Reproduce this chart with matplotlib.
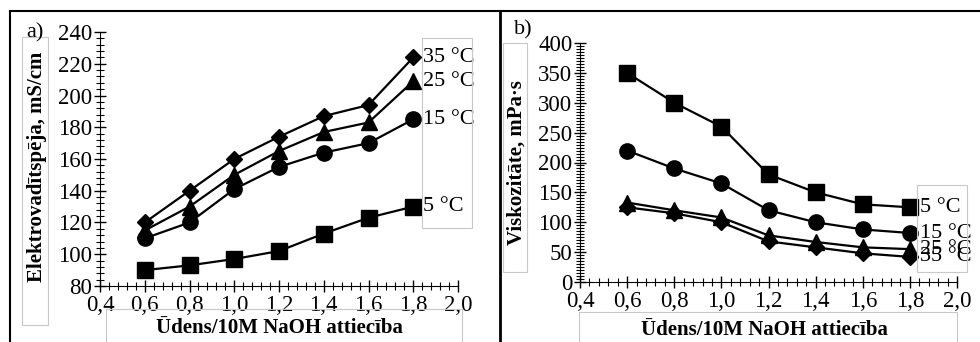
import numpy as np
import matplotlib
matplotlib.use("Agg")
import matplotlib.pyplot as plt
from matplotlib.lines import Line2D
from matplotlib.patches import Rectangle
from matplotlib.ticker import MultipleLocator, FuncFormatter

plt.rcParams["font.family"] = ["Liberation Serif", "DejaVu Serif"]

ratio = [0.6, 0.8, 1.0, 1.2, 1.4, 1.6, 1.8]
temps = ["5 °C", "15 °C", "25 °C", "35 °C"]
markers = ["s", "o", "^", "D"]

# a) conductivity, mS/cm
cond = {
    "5 °C": [90, 93, 97, 102, 113, 123, 130],
    "15 °C": [110, 120, 141, 155, 164, 170, 185],
    "25 °C": [115, 130, 150, 165, 177, 183, 209],
    "35 °C": [120, 140, 160, 174, 187, 194, 224],
}
# b) viscosity, mPa·s
visc = {
    "5 °C": [350, 300, 260, 180, 150, 130, 125],
    "15 °C": [220, 190, 165, 120, 100, 88, 82],
    "25 °C": [133, 120, 108, 78, 67, 58, 55],
    "35 °C": [125, 115, 100, 68, 58, 48, 42],
}

W, H = 980, 342
fig = plt.figure(figsize=(W / 100, H / 100), dpi=100)


def px_box(x0, y0, x1, y1):
    # pixel box (top-left origin) -> figure fraction [l, b, w, h]
    return [x0 / W, 1 - y1 / H, (x1 - x0) / W, (y1 - y0) / H]


def gray_rect(x0, y0, x1, y1):
    l, b, w, h = px_box(x0, y0, x1, y1)
    fig.add_artist(Rectangle((l, b), w, h, transform=fig.transFigure,
                             fill=False, edgecolor="#c8c8c8", lw=0.8))


def fig_line(xs, ys, lw=1.5):
    fig.add_artist(Line2D([x / W for x in xs], [1 - y / H for y in ys],
                          transform=fig.transFigure, color="black", lw=lw))


comma = FuncFormatter(lambda v, p: f"{v:.1f}".replace(".", ","))

ax1 = fig.add_axes(px_box(100, 32, 458, 286))
ax2 = fig.add_axes(px_box(580, 43, 957, 282))

for ax, data, ylim, ymaj, ymin, ylab in [
    (ax1, cond, (80, 240), 20, 4, "Elektrovadītspēja, mS/cm"),
    (ax2, visc, (0, 400), 50, 5, "Viskozitāte, mPa·s"),
]:
    for t, m in zip(temps, markers):
        ms = {"s": 11, "o": 11, "^": 11, "D": 8.5}[m]
        ax.plot(ratio, data[t], color="black", lw=1.6, marker=m, ms=ms)
        ax.annotate(t, (ratio[-1], data[t][-1]), xytext=(7, 0),
                    textcoords="offset points", va="center", ha="left",
                    fontsize=16, annotation_clip=False)
    ax.set_xlim(0.4, 2.0)
    ax.set_ylim(*ylim)
    ax.xaxis.set_major_locator(MultipleLocator(0.2))
    ax.xaxis.set_minor_locator(MultipleLocator(0.04))
    ax.xaxis.set_major_formatter(comma)
    ax.yaxis.set_major_locator(MultipleLocator(ymaj))
    ax.yaxis.set_minor_locator(MultipleLocator(ymin))
    ax.spines[["top", "right"]].set_visible(False)
    ax.tick_params(which="major", direction="inout", length=9, width=1,
                   labelsize=16.5, pad=1)
    ax.tick_params(axis="x", which="major", pad=2)
    ax.tick_params(which="minor", direction="inout", length=6, width=0.8)
    ax.set_ylabel(ylab, fontsize=15, fontweight="bold")
    ax.set_xlabel("Ūdens/10M NaOH attiecība", fontsize=15,
                  fontweight="bold")
    ax.patch.set_alpha(0)

# label anchors: ylabel -> right edge of rotated text, xlabel -> top of text
ax1.yaxis.set_label_coords(-0.148, 0.47)
ax1.xaxis.set_label_coords(0.50, -0.126)
ax2.yaxis.set_label_coords(-0.141, 0.50)
ax2.xaxis.set_label_coords(0.49, -0.159)

# panel letters
fig.text(26 / W, 1 - 33 / H, "a)", fontsize=16, va="center", ha="left")
fig.text(514 / W, 1 - 30 / H, "b)", fontsize=16, va="center", ha="left")

# light frames around titles / labels
gray_rect(22, 37, 48, 325)
gray_rect(106, 309, 462, 345)
gray_rect(422, 38, 472, 228)
gray_rect(503, 43, 527, 272)
gray_rect(579, 312, 957, 345)
gray_rect(917, 185, 967, 272)

# outer panel frames
fig_line([10, 10], [11, 345])
fig_line([10, 980], [11, 11])
fig_line([500, 500], [11, 345], lw=2)

fig.savefig("out.png", dpi=100)
